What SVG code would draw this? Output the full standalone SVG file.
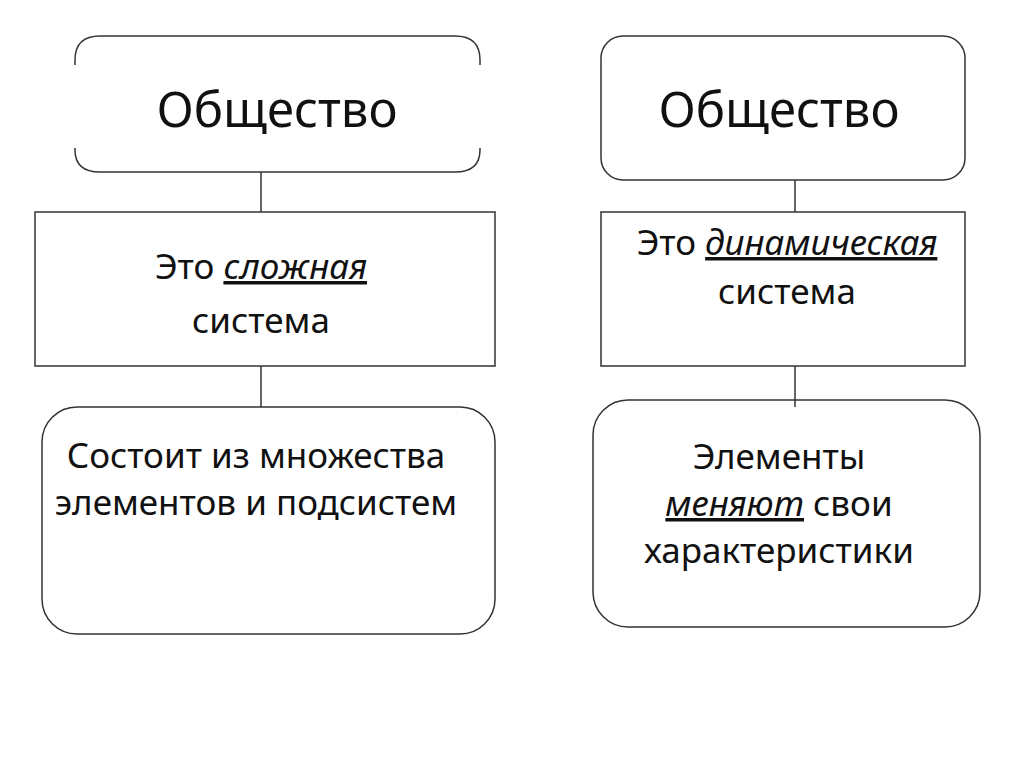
<svg xmlns="http://www.w3.org/2000/svg" width="1024" height="767" viewBox="0 0 1024 767">
<style>
.b{fill:none;stroke:#333;stroke-width:1.5}
.t{font-family:"Noto Sans","Open Sans",sans-serif;fill:#111;text-anchor:middle}
.h{font-size:49px}
.s{font-size:35px}
.u{font-style:italic;text-decoration:underline}
</style>
<rect width="1024" height="767" fill="#fff"/>
<g id="connectors" class="b">
<line x1="261" y1="172" x2="261" y2="212"/>
<line x1="261" y1="366" x2="261" y2="407"/>
<line x1="795" y1="180" x2="795" y2="212"/>
<line x1="795" y1="366" x2="795" y2="407"/>
</g>
<g id="n1">
<path class="b" d="M75,65 V60 Q75,36 100,36 H455 Q480,36 480,60 V65 M75,148 V150 Q75,172 100,172 H455 Q480,172 480,150 V148"/>
<text class="t h" x="277" y="127">Общество</text>
</g>
<g id="n2">
<rect class="b" x="35" y="212" width="460" height="154"/>
<text class="t s" x="261" y="279">Это <tspan class="u">сложная</tspan></text>
<text class="t s" x="261" y="333">система</text>
</g>
<g id="n3">
<rect class="b" x="42" y="407" width="453" height="227" rx="35"/>
<text class="t s" x="256" y="468">Состоит из множества</text>
<text class="t s" x="256" y="515">элементов и подсистем</text>
</g>
<g id="n4">
<rect class="b" x="601" y="36" width="364" height="144" rx="22"/>
<text class="t h" x="779" y="127">Общество</text>
</g>
<g id="n5">
<rect class="b" x="601" y="212" width="364" height="154"/>
<text class="t s" x="787" y="255">Это <tspan class="u">динамическая</tspan></text>
<text class="t s" x="787" y="304">система</text>
</g>
<g id="n6">
<rect class="b" x="593" y="400" width="387" height="227" rx="35"/>
<text class="t s" x="779" y="469">Элементы</text>
<text class="t s" x="779" y="516"><tspan class="u">меняют</tspan> свои</text>
<text class="t s" x="779" y="563">характеристики</text>
</g>
</svg>
